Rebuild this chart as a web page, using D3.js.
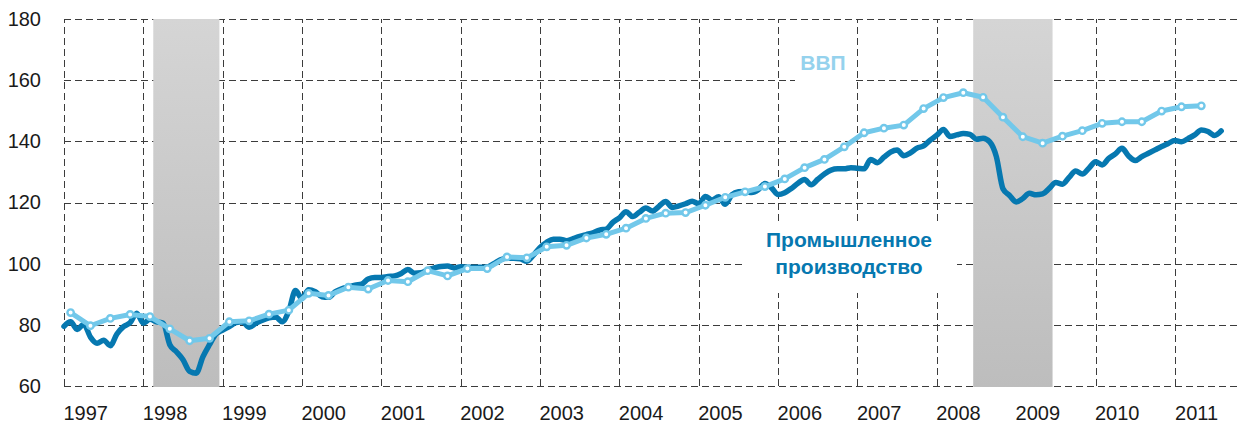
<!DOCTYPE html>
<html>
<head>
<meta charset="utf-8">
<script src="https://cdn.jsdelivr.net/npm/d3@7/dist/d3.min.js"></script>
<style>
  body { margin: 0; background: #fff; }
  text { font-family: "Liberation Sans", Arial, sans-serif; }
</style>
</head>
<body>
<svg width="1243" height="425"></svg>
<script>
// years on the axis, first month of the series is Jan 1997
const years = d3.range(1997, 2012);
const yTicks = [60, 80, 100, 120, 140, 160, 180];

// GDP, quarterly, Q1 1997 .. Q2 2011
const gdp = [84.0, 79.7, 82.1, 83.4, 82.7, 78.7, 74.8, 75.6, 81.0, 81.3,
    83.5, 84.8, 90.3, 89.6, 92.3, 91.7, 94.5, 94.1, 97.7, 96.0,
    98.4, 98.4, 102.2, 101.9, 105.5, 106.0, 108.4, 109.6, 111.6, 114.8,
    116.5, 116.7, 119.1, 121.7, 123.5, 125.2, 127.7, 131.4, 134.1, 138.2,
    142.8, 144.3, 145.3, 150.7, 154.3, 155.9, 154.4, 147.9, 141.5, 139.4,
    141.7, 143.5, 145.9, 146.4, 146.4, 149.9, 151.3, 151.6];

// industrial production, monthly, Jan 1997 .. Aug 2011
const ip = [79.5, 81.0, 78.5, 80.2, 76.0, 74.0, 75.0, 73.2, 77.0, 79.4, 80.7, 83.8,
    80.5, 81.8, 81.0, 80.5, 73.5, 71.2, 68.6, 64.8, 64.2, 69.5, 73.5, 77.0,
    78.3, 79.4, 80.7, 81.0, 79.2, 80.5, 81.5, 82.3, 82.6, 81.0, 84.5, 91.2,
    88.6, 91.5, 90.8, 89.2, 89.0, 90.8, 91.8, 92.4, 93.0, 93.3, 95.0, 95.5,
    95.5, 95.8, 96.0, 96.8, 98.1, 96.9, 97.0, 98.0, 98.6, 99.1, 99.2, 98.6,
    99.0, 98.8, 98.8, 98.8, 98.9, 100.0, 101.3, 101.8, 101.8, 101.6, 100.8, 102.8,
    105.3, 107.0, 108.0, 108.0, 107.5, 108.2, 108.9, 109.5, 110.1, 111.0, 111.3, 113.5,
    115.0, 117.0, 115.4, 116.8, 118.2, 117.2, 118.8, 120.3, 118.4, 118.9, 119.6, 120.4,
    119.6, 122.0, 120.8, 121.9, 119.4, 122.5, 123.5, 123.6, 123.3, 124.2, 126.2, 124.8,
    122.6, 123.2, 124.6, 126.3, 127.5, 125.8, 127.6, 129.3, 130.6, 131.0, 131.0, 131.4,
    131.2, 131.0, 134.1, 133.0, 134.8, 136.5, 137.2, 135.3, 136.2, 137.8, 138.5, 140.4,
    142.0, 143.9, 141.6, 142.1, 142.6, 142.3, 140.7, 141.0, 139.8, 135.0, 124.5, 122.3,
    120.2, 121.3, 123.0, 122.5, 122.8, 124.6, 126.5, 126.0, 128.2, 130.3, 129.3, 131.2,
    133.3, 132.3, 134.4, 135.9, 137.7, 135.2, 133.7, 135.0, 136.1, 137.2, 138.3, 139.3,
    140.3, 139.9, 140.9, 142.1, 143.7, 143.2, 141.9, 143.4];

// shaded crisis periods, first and last month
const crisisStart = ['1998-03', '2008-07'];
const crisisEnd = ['1998-12', '2009-06'];

const svg = d3.select('svg');
const plotLeft = 64, plotRight = 1241, plotTop = 19, plotBottom = 386;

const monthIndex = s => {
    const [yy, mm] = s.split('-').map(Number);
    return (yy - 1997) * 12 + (mm - 1);
};

const x = d3.scaleLinear().domain([0, 178]).range([plotLeft, plotRight]);
const y = d3.scaleLinear().domain([60, 180]).range([plotBottom, plotTop]);

const gridColor = '#3c3c3c';

// horizontal grid
svg.append('g')
    .attr('transform', `translate(${plotLeft},0)`)
    .call(d3.axisLeft(y).tickValues(yTicks).tickSize(-(plotRight - plotLeft)).tickFormat(''))
    .call(g => g.select('.domain').remove())
    .selectAll('line')
    .attr('stroke', gridColor)
    .attr('shape-rendering', 'crispEdges')
    .attr('stroke-dasharray', '7,4');

// vertical grid at each new year
svg.append('g')
    .attr('transform', `translate(0,${plotBottom})`)
    .call(d3.axisBottom(x).tickValues(years.map(d => (d - 1997) * 12)).tickSize(-(plotBottom - plotTop)).tickFormat(''))
    .call(g => g.select('.domain').remove())
    .selectAll('line')
    .attr('stroke', gridColor)
    .attr('shape-rendering', 'crispEdges')
    .attr('stroke-dasharray', '7,4');

// label backgrounds
svg.append('rect').attr('x', 795).attr('y', 48).attr('width', 61).attr('height', 42).attr('fill', '#fff');
svg.append('rect').attr('x', 742).attr('y', 223).attr('width', 215).attr('height', 70).attr('fill', '#fff');

// crisis bands
const defs = svg.append('defs');
const grad = defs.append('linearGradient')
    .attr('id', 'band')
    .attr('x1', 0).attr('y1', 0).attr('x2', 0).attr('y2', 1);
grad.append('stop').attr('offset', '0%').attr('stop-color', '#d5d5d5');
grad.append('stop').attr('offset', '100%').attr('stop-color', '#bdbdbd');

svg.selectAll('rect.band')
    .data(d3.zip(crisisStart, crisisEnd))
    .join('rect')
    .attr('class', 'band')
    .attr('x', d => x(monthIndex(d[0]) - 0.5))
    .attr('width', d => x(monthIndex(d[1]) + 0.5) - x(monthIndex(d[0]) - 0.5))
    .attr('y', plotTop)
    .attr('height', plotBottom - plotTop + 1)
    .attr('fill', 'url(#band)');

// axis labels
svg.append('g')
    .attr('transform', `translate(${plotLeft - 23},0)`)
    .call(d3.axisLeft(y).tickValues(yTicks).tickSize(0).tickPadding(0))
    .call(g => g.select('.domain').remove())
    .selectAll('text')
    .attr('font-size', 20)
    .attr('font-family', '"Liberation Sans", Arial, sans-serif')
    .attr('fill', '#1a1a1a');

svg.append('g')
    .attr('transform', `translate(0,${plotBottom + 20})`)
    .call(d3.axisBottom(x).tickValues(years.map(d => (d - 1997) * 12 + 3.2)).tickSize(0).tickPadding(0)
        .tickFormat((d, i) => years[i]))
    .call(g => g.select('.domain').remove())
    .selectAll('text')
    .attr('font-size', 20)
    .attr('font-family', '"Liberation Sans", Arial, sans-serif')
    .attr('fill', '#1a1a1a');

// industrial production
const ipColor = '#0678b0';
const gdpColor = '#72c8ea';

svg.append('path')
    .datum(ip)
    .attr('fill', 'none')
    .attr('stroke', ipColor)
    .attr('stroke-width', 5.5)
    .attr('stroke-linejoin', 'round')
    .attr('stroke-linecap', 'round')
    .attr('d', d3.line().x((d, i) => x(i)).y(d => y(d)).curve(d3.curveMonotoneX));

// GDP
svg.append('path')
    .datum(gdp)
    .attr('fill', 'none')
    .attr('stroke', gdpColor)
    .attr('stroke-width', 5)
    .attr('stroke-linejoin', 'round')
    .attr('d', d3.line().x((d, i) => x(i * 3 + 1)).y(d => y(d)));

svg.selectAll('circle.gdp')
    .data(gdp)
    .join('circle')
    .attr('class', 'gdp')
    .attr('cx', (d, i) => x(i * 3 + 1))
    .attr('cy', d => y(d))
    .attr('r', 3.2)
    .attr('fill', '#fff')
    .attr('stroke', gdpColor)
    .attr('stroke-width', 2.4);

// series names
svg.append('text')
    .attr('x', 823).attr('y', 70)
    .attr('text-anchor', 'middle')
    .attr('font-size', 21)
    .attr('font-weight', 'bold')
    .attr('fill', '#95d2ed')
    .text('ВВП');

const ipLabel = svg.append('text')
    .attr('text-anchor', 'middle')
    .attr('font-size', 21)
    .attr('font-weight', 'bold')
    .attr('fill', ipColor);
ipLabel.append('tspan').attr('x', 849).attr('y', 247).text('Промышленное');
ipLabel.append('tspan').attr('x', 849).attr('y', 274).text('производство');
</script>
</body>
</html>
